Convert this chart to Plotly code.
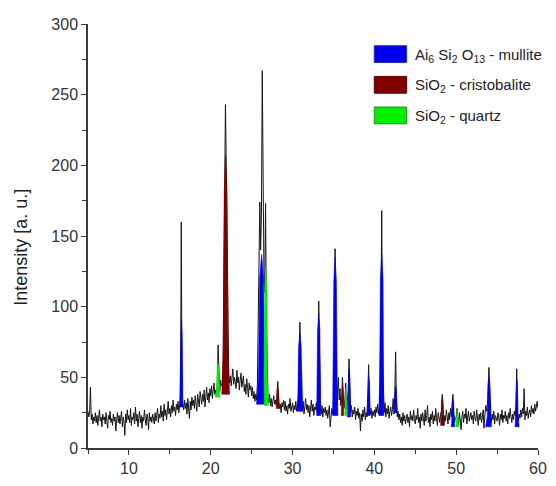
import plotly.graph_objects as go

# 2-theta grid start/step and intensities (one row per degree)
two_theta_start = 5.0
two_theta_step = 0.1
intensity_rows = [
    [26, 22, 25, 43, 20, 24, 17, 22, 19, 25],   # 5
    [18, 23, 16, 21, 27, 19, 22, 15, 24, 20],   # 6
    [22, 17, 25, 19, 14, 23, 20, 26, 18, 21],   # 7
    [16, 24, 19, 22, 12, 20, 25, 18, 23, 17],   # 8
    [21, 26, 15, 22, 19, 9, 24, 18, 27, 20],    # 9
    [23, 18, 28, 16, 22, 20, 25, 17, 29, 19],   # 10
    [24, 15, 21, 26, 18, 23, 14, 22, 19, 27],   # 11
    [20, 16, 24, 21, 13, 25, 19, 22, 18, 24],   # 12
    [21, 17, 25, 19, 23, 28, 18, 24, 21, 30],   # 13
    [22, 26, 19, 31, 23, 27, 20, 25, 33, 24],   # 14
    [28, 22, 30, 25, 34, 26, 29, 23, 31, 27],   # 15
    [33, 25, 30, 35, 160, 29, 31, 27, 34, 28],  # 16
    [32, 24, 35, 29, 21, 33, 27, 36, 30, 34],   # 17
    [28, 37, 31, 26, 38, 33, 29, 40, 35, 31],   # 18
    [38, 33, 41, 29, 36, 43, 34, 39, 32, 42],   # 19
    [37, 44, 35, 40, 46, 38, 41, 36, 45, 73],   # 20
    [45, 40, 48, 44, 45, 55, 120, 190, 243, 200],  # 21
    [150, 100, 52, 46, 51, 44, 49, 56, 45, 50],  # 22
    [47, 42, 55, 46, 50, 41, 48, 53, 43, 47],   # 23
    [51, 40, 45, 38, 49, 43, 36, 46, 41, 44],   # 24
    [37, 43, 35, 40, 33, 38, 34, 45, 80, 120],  # 25
    [174, 140, 165, 267, 150, 125, 110, 173, 95, 45],  # 26
    [36, 32, 38, 30, 35, 29, 33, 37, 31, 34],   # 27
    [30, 38, 47, 33, 28, 31, 25, 32, 29, 34],   # 28
    [27, 33, 26, 30, 24, 31, 28, 35, 26, 29],   # 29
    [32, 25, 30, 27, 33, 26, 29, 35, 55, 89],   # 30
    [48, 30, 26, 33, 24, 29, 35, 27, 31, 25],   # 31
    [30, 22, 28, 34, 26, 31, 23, 29, 27, 32],   # 32
    [26, 40, 104, 45, 27, 24, 30, 22, 28, 25],  # 33
    [29, 23, 27, 21, 26, 30, 15, 25, 28, 24],   # 34
    [27, 45, 141, 60, 30, 38, 50, 34, 42, 30],  # 35
    [35, 50, 31, 28, 34, 46, 27, 32, 40, 63],   # 36
    [38, 25, 30, 22, 27, 24, 29, 20, 26, 23],   # 37
    [28, 21, 25, 12, 24, 19, 27, 22, 29, 20],   # 38
    [25, 22, 38, 59, 30, 24, 28, 21, 26, 23],   # 39
    [27, 22, 29, 25, 31, 24, 28, 45, 90, 168],  # 40
    [60, 30, 25, 32, 22, 28, 24, 30, 21, 26],   # 41
    [29, 23, 27, 35, 24, 40, 68, 33, 22, 26],   # 42
    [20, 24, 18, 22, 16, 25, 19, 23, 17, 21],   # 43
    [24, 18, 22, 15, 26, 20, 23, 19, 27, 21],   # 44
    [17, 23, 20, 28, 18, 22, 14, 24, 19, 25],   # 45
    [21, 16, 27, 19, 23, 30, 18, 22, 15, 24],   # 46
    [20, 26, 17, 23, 19, 28, 21, 16, 25, 22],   # 47
    [18, 24, 26, 38, 20, 16, 23, 19, 27, 21],   # 48
    [17, 25, 20, 28, 22, 30, 38, 24, 18, 21],   # 49
    [22, 28, 19, 16, 25, 20, 13, 22, 26, 18],   # 50
    [24, 21, 28, 17, 23, 26, 19, 22, 25, 20],   # 51
    [23, 17, 26, 21, 19, 27, 22, 16, 24, 20],   # 52
    [25, 18, 22, 27, 14, 23, 30, 26, 32, 35],   # 53
    [57, 30, 22, 18, 24, 20, 26, 17, 23, 21],   # 54
    [19, 25, 22, 16, 24, 20, 27, 18, 23, 21],   # 55
    [26, 19, 23, 17, 25, 21, 28, 22, 18, 24],   # 56
    [20, 26, 23, 30, 56, 25, 19, 24, 21, 27],   # 57
    [22, 28, 24, 42, 20, 26, 23, 29, 21, 25],   # 58
    [27, 22, 30, 25, 28, 24, 31, 26, 29, 33],   # 59
    [28],                                       # 60
]

# Phase-identified peak regions (coloured areas):
# centre, top of coloured area, base level, left/right foot, half width of the column
mullite_pos = [16.4, 26.22, 30.9, 33.2, 35.2, 36.9, 39.3, 40.9, 42.6, 49.6, 54.0, 57.4]
mullite_top = [91, 137, 81, 95, 135, 56, 51, 137, 44, 35, 51, 49]
mullite_base = [29, 31, 26, 23, 23, 22, 23, 23, 25, 15, 15, 15]
mullite_left = [16.2, 25.6, 30.55, 32.95, 34.9, 36.7, 39.1, 40.55, 42.4, 49.4, 53.6, 57.2]
mullite_right = [16.6, 26.75, 31.25, 33.45, 35.55, 37.1, 39.5, 41.15, 42.8, 49.8, 54.3, 57.7]
mullite_halfwidth = [0.17, 0.38, 0.24, 0.22, 0.26, 0.16, 0.16, 0.26, 0.13, 0.14, 0.2, 0.16]

cristobalite_pos = [21.82, 28.2, 36.1, 48.3]
cristobalite_top = [207, 43, 44, 36]
cristobalite_base = [38, 28, 23, 16]
cristobalite_left = [21.35, 28.0, 35.95, 48.1]
cristobalite_right = [22.3, 28.4, 36.25, 48.5]
cristobalite_halfwidth = [0.28, 0.14, 0.12, 0.15]

quartz_pos = [20.9, 26.72, 36.5, 50.1]
quartz_top = [60, 128, 42, 27]
quartz_base = [36, 30, 23, 15]
quartz_left = [20.55, 26.55, 36.38, 49.95]
quartz_right = [21.1, 27.05, 36.65, 50.3]
quartz_halfwidth = [0.18, 0.2, 0.1, 0.12]

legend_labels = [
    "Ai<sub>6</sub> Si<sub>2</sub> O<sub>13</sub> - mullite",
    "SiO<sub>2</sub> - cristobalite",
    "SiO<sub>2</sub> - quartz",
]
phase_colors = ["#0000f0", "#7f0000", "#00f000"]
legend_edge = ["#2a2a9a", "#5a0000", "#2a8a2a"]

x_ticks = [10, 20, 30, 40, 50, 60]
y_ticks = [0, 50, 100, 150, 200, 250, 300]

# ---- build the figure ----
intensity = [v for row in intensity_rows for v in row]
two_theta = [round(two_theta_start + two_theta_step * i, 2) for i in range(len(intensity))]

FONT = "Liberation Sans, Arial, sans-serif"

fig = go.Figure()
fig.add_trace(go.Scatter(x=two_theta, y=intensity, mode="lines",
                         line=dict(color="#151515", width=1), showlegend=False,
                         hoverinfo="skip"))


def polys(pos, top, base, left, right, hw):
    xs, ys = [], []
    for p, t, b, l, r, w in zip(pos, top, base, left, right, hw):
        h = t - b
        xs += [l, p - w, p - 0.6 * w, p, p + 0.6 * w, p + w, r, l, None]
        ys += [b, b + 0.2 * h, t - 0.15 * h, t, t - 0.15 * h, b + 0.2 * h, b, b, None]
    return xs, ys


phases = [
    (mullite_pos, mullite_top, mullite_base, mullite_left, mullite_right, mullite_halfwidth),
    (cristobalite_pos, cristobalite_top, cristobalite_base, cristobalite_left,
     cristobalite_right, cristobalite_halfwidth),
    (quartz_pos, quartz_top, quartz_base, quartz_left, quartz_right, quartz_halfwidth),
]
for args, col in zip(phases, phase_colors):
    xs, ys = polys(*args)
    fig.add_trace(go.Scatter(x=xs, y=ys, mode="lines", fill="toself", fillcolor=col,
                             line=dict(color=col, width=0.6), showlegend=False,
                             hoverinfo="skip"))

# figure geometry (page margin removed so the figure fills the window exactly)
W, H = 556, 486
L, R, T, B = 88, 9, 24, 33
pw, ph = W - L - R, H - T - B


def px2paper_x(px):
    return (px - L) / pw


def px2paper_y(py):
    return (H - B - py) / ph


box_rows = [(46, 63), (77, 94), (108, 125)]
for (y0, y1), col, edge, lab in zip(box_rows, phase_colors, legend_edge, legend_labels):
    fig.add_shape(type="rect", xref="paper", yref="paper",
                  x0=px2paper_x(380), x1=px2paper_x(413),
                  y0=px2paper_y(y1), y1=px2paper_y(y0),
                  fillcolor=col, line=dict(color=edge, width=1))
    fig.add_annotation(xref="paper", yref="paper", x=px2paper_x(420),
                       y=px2paper_y((y0 + y1) / 2 + 1), text=lab, showarrow=False,
                       xanchor="left", yanchor="middle",
                       font=dict(family=FONT, size=15, color="#222222"))

fig.add_annotation(xref="paper", yref="paper", x=px2paper_x(20), y=px2paper_y(250),
                   text="Intensity [a. u.]", textangle=-90, showarrow=False,
                   xanchor="center", yanchor="middle",
                   font=dict(family=FONT, size=18, color="#222222"))

axis_common = dict(showline=True, linecolor="#3a3a3a", linewidth=1.5, ticks="outside",
                   ticklen=5, tickwidth=1.3, tickcolor="#3a3a3a", showgrid=False,
                   zeroline=False, tickfont=dict(family=FONT, size=16, color="#333333"))

fig.update_xaxes(range=[5, 60], tickvals=x_ticks,
                 minor=dict(tickvals=[5, 15, 25, 35, 45, 55], ticklen=4, tickcolor="#3a3a3a",
                            ticks="outside", tickwidth=1.2),
                 **axis_common)
fig.update_yaxes(range=[0, 300], tickvals=y_ticks,
                 minor=dict(tickvals=[25, 75, 125, 175, 225, 275], ticklen=4,
                            tickcolor="#3a3a3a", ticks="outside", tickwidth=1.2),
                 **axis_common)

fig.update_layout(width=W, height=H, margin=dict(l=L, r=R, t=T, b=B),
                  paper_bgcolor="white", plot_bgcolor="white",
                  font=dict(family=FONT), showlegend=False, hovermode=False)

fig.write_html("out.html", config={"displayModeBar": False},
               post_script="document.body.style.margin='0';"
                           "document.body.style.overflow='hidden';")
